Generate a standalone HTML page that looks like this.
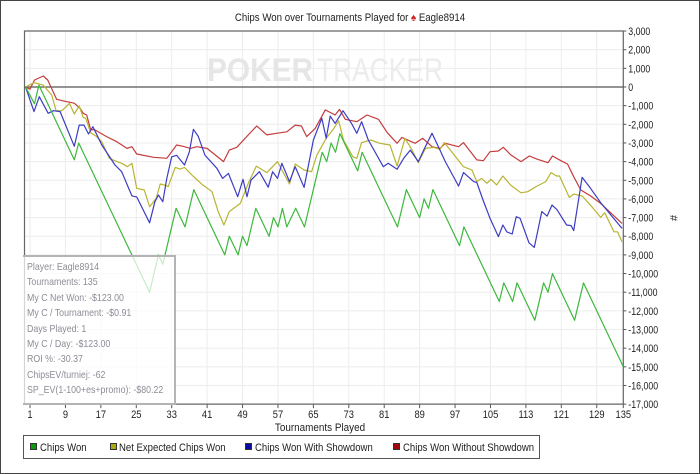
<!DOCTYPE html>
<html><head><meta charset="utf-8">
<style>
html,body{margin:0;padding:0;background:#fff;}
#wrap{position:relative;width:700px;height:474px;overflow:hidden;font-family:"Liberation Sans",sans-serif;}
svg text{font-family:"Liberation Sans",sans-serif;}
#info{position:absolute;left:23px;top:255px;width:151px;height:146px;border:2px solid #b4b4b4;border-left:none;background:rgba(255,255,255,0.72);font-size:10.5px;color:#8c8c96;}
#info div{position:absolute;left:4px;white-space:nowrap;transform:scaleX(0.84);transform-origin:0 0;}
</style></head>
<body>
<div id="wrap">
<svg id="chart" width="700" height="474">
  <rect x="0.5" y="0.5" width="699" height="473" fill="#fff" stroke="#444"/>
  <g transform="translate(350,21) scale(0.88,1)"><text x="0" y="0" font-size="11" text-anchor="middle" fill="#222">Chips Won over Tournaments Played for <tspan fill="#d02020">♠</tspan> Eagle8914</text></g>
  <g id="grid"></g>
  <g>
    <text x="207" y="81" font-size="32" font-weight="bold" fill="#e6e6e6" textLength="106" lengthAdjust="spacingAndGlyphs">POKER</text>
    <text x="317" y="81" font-size="32" fill="#ececec" textLength="126" lengthAdjust="spacingAndGlyphs">TRACKER</text>
  </g>
  <g id="axes"></g>
  <g id="series"></g>
  <g transform="translate(320,431) scale(0.9,1)"><text x="0" y="0" font-size="11" text-anchor="middle" fill="#222">Tournaments Played</text></g>
  <text x="670" y="218" font-size="11" text-anchor="middle" fill="#222" transform="rotate(90 670 218)">#</text>
  <g>
    <rect x="23.5" y="435.5" width="516" height="23" fill="#fff" stroke="#555"/>
    <g>
      <rect x="30.5" y="443.5" width="6" height="6" fill="#0a9a0a" stroke="#333"/>
      <g transform="translate(40,451) scale(0.87,1)"><text font-size="11" fill="#222">Chips Won</text></g>
    </g>
    <g>
      <rect x="110.5" y="443.5" width="6" height="6" fill="#a8a810" stroke="#333"/>
      <g transform="translate(119,451) scale(0.87,1)"><text font-size="11" fill="#222">Net Expected Chips Won</text></g>
    </g>
    <g>
      <rect x="245.5" y="443.5" width="6" height="6" fill="#0a0aa0" stroke="#333"/>
      <g transform="translate(255,451) scale(0.87,1)"><text font-size="11" fill="#222">Chips Won With Showdown</text></g>
    </g>
    <g>
      <rect x="393.5" y="443.5" width="6" height="6" fill="#a00a0a" stroke="#333"/>
      <g transform="translate(403,451) scale(0.87,1)"><text font-size="11" fill="#222">Chips Won Without Showdown</text></g>
    </g>
  </g>
</svg>
<div id="info">
  <div style="top:4px">Player: Eagle8914</div>
  <div style="top:19px">Tournaments: 135</div>
  <div style="top:35px">My C Net Won: -$123.00</div>
  <div style="top:50px">My C / Tournament: -$0.91</div>
  <div style="top:66px">Days Played: 1</div>
  <div style="top:81px">My C / Day: -$123.00</div>
  <div style="top:96px">ROI %: -30.37</div>
  <div style="top:112px">ChipsEV/turniej: -62</div>
  <div style="top:127px">SP_EV(1-100+es+promo): -$80.22</div>
</div>
</div>
<script>
const xTicks=[1,9,17,25,33,41,49,57,65,73,81,89,97,105,113,121,129,135];
const yTicks=[3000,2000,1000,0,-1000,-2000,-3000,-4000,-5000,-6000,-7000,-8000,-9000,-10000,-11000,-12000,-13000,-14000,-15000,-16000,-17000];
const chipsWonT=[0,2,3,11,12,28,30,31,34,36,38,45,46,48,49,50,52,55,56,57,58,59,61,63,67,68,69,70,71,75,76,84,86,89,90,91,92,98,99,107,108,110,111,115,117,118,119,124,126,135];
const chipsWonV=[0,-900,100,-3900,-3000,-11000,-9000,-9500,-6500,-7500,-5500,-9000,-8000,-9000,-8000,-8500,-6500,-8000,-7000,-7500,-6500,-7500,-6500,-7500,-3500,-4000,-3000,-3500,-2500,-4500,-3500,-7500,-5500,-7000,-6000,-6500,-5500,-8500,-7500,-11500,-10500,-11500,-10500,-12500,-10500,-11000,-10000,-12500,-10500,-15000];
const netExpT=[0,1.9,3.9,5.9,6.9,8.2,9.9,11,12.1,13,13.6,14.7,15.9,17.2,18.9,20.6,21.7,23,24,25.1,26.8,28,29.5,30.4,31.3,32.2,33.8,34.9,35.9,37.9,40,42.1,43.5,44.8,46,48.5,50.3,52.1,54.5,56.9,57.9,59.6,60.9,62.9,64.6,65.8,67.9,69.5,70.7,71.8,73.9,74.8,75.9,78,80,82.3,83.9,85.7,87.3,88.7,90.3,92.2,93.6,94.6,98.9,100.8,101.9,103,104.2,105.1,106.4,107.8,109.5,111.9,113.4,115.3,117.5,118.7,119.9,120.6,122.8,123.8,125.7,127.9,129.9,130.8,132.9,133.7,134.7];
const netExpV=[0,230,110,-430,-1270,-1270,-880,-1450,-1020,-1630,-1680,-2450,-2630,-2930,-3820,-4000,-4090,-4270,-4090,-5430,-5520,-6420,-5970,-5200,-5250,-5340,-4310,-4400,-4310,-4800,-5250,-5610,-6680,-7400,-6680,-6240,-5160,-4240,-4590,-4000,-4450,-5200,-4130,-4450,-4540,-3650,-2750,-2270,-1810,-2840,-3740,-3820,-2980,-2840,-3020,-3110,-4240,-2750,-3380,-4060,-3290,-3240,-3340,-2980,-4270,-4450,-5070,-4900,-5160,-4950,-5250,-4770,-5250,-5670,-5610,-5340,-5070,-4590,-4770,-4770,-5920,-5740,-5840,-6420,-6990,-6740,-7760,-7760,-8300];
const showT=[0,1.9,3.1,5.1,6.3,7.8,11,12.1,13.2,14.2,15.2,17.2,20.2,21.7,24,25.1,28,29.2,30,31,31.9,33,34.1,35.9,37,37.9,39,40.5,43.2,44.5,45.8,47.9,49.1,50,50.9,52.8,54.8,55.8,56.9,57.9,59.6,60.9,62.9,65,66.9,67.9,68.8,69.9,71.7,73.6,74.8,75.9,77.4,80.8,81.9,83.9,85.4,86.9,88.7,90,91.8,93.6,94.8,97.8,98.9,101.2,101.9,103.4,104.9,106.8,107.8,108.7,109.9,110.8,111.7,113.7,114.9,116.6,117.8,118.9,120,122.2,123.2,123.8,125.7,127.6,129.9,134.7];
const showV=[0,-1320,-520,-1410,-1270,-1320,-3180,-2040,-2040,-2520,-2130,-3110,-4180,-4540,-5840,-5890,-7280,-6150,-5790,-6150,-4900,-3740,-3660,-4180,-3470,-2270,-2650,-3650,-4360,-4900,-4630,-5880,-4950,-5880,-4990,-4540,-5370,-4540,-4900,-4090,-5070,-4270,-5380,-2840,-1680,-2750,-1560,-1950,-1270,-1950,-2480,-1860,-2840,-4270,-4090,-4410,-3820,-3380,-4000,-3340,-2480,-3380,-4000,-5310,-4590,-5070,-5120,-6110,-7040,-8020,-7400,-7770,-7880,-6950,-7040,-8350,-8600,-6680,-6920,-6330,-6570,-7400,-7430,-7700,-4840,-5430,-6200,-7580];
const noShowT=[0,1,2,4,5,7,9.3,11,12.3,13,13.8,14.7,15.5,18.3,20.6,22.9,24,25.1,28.9,31.9,34.1,35.6,37.2,38.7,41,44.7,46,47.7,50.3,52.2,54.5,56.7,59,60.9,62.3,63.5,65.4,67.7,69.9,70.9,72.2,74.8,77.1,79.7,81.7,83.9,85,88,89.7,91.8,93.6,94.8,97.8,98.9,101.9,103.4,104.9,106.8,107.9,109.6,111.9,113.8,115.7,118,119,120.9,122.4,123.8,125.4,127.6,129.9,134.7];
const noShowV=[0,-120,375,590,375,-660,-790,-870,-1140,-1410,-1500,-2300,-2280,-2660,-2930,-3290,-3200,-3590,-3770,-3820,-3110,-3180,-3290,-3200,-3290,-4000,-3380,-3230,-2570,-2090,-2570,-2480,-2400,-2040,-2090,-2660,-2220,-1230,-1500,-1200,-1730,-1860,-1500,-1730,-2450,-3020,-2700,-3020,-2750,-3200,-3290,-3020,-3200,-2980,-3910,-3950,-3470,-3430,-3230,-3640,-4000,-3700,-3880,-4060,-3700,-3950,-4130,-4810,-5520,-5840,-6240,-7310];

const NS='http://www.w3.org/2000/svg';
const X0=25.6, XS=(623.3-25.6)/135;
const xs=t=>X0+t*XS;
const ys=v=>87-v*0.018655;
function mk(tag,attrs,parent){const e=document.createElementNS(NS,tag);for(const k in attrs)e.setAttribute(k,attrs[k]);parent.appendChild(e);return e;}
const grid=document.getElementById('grid'), axes=document.getElementById('axes'), ser=document.getElementById('series');
const L=24.5,R=623.3,T=ys(3000),B=ys(-17000);
xTicks.forEach(t=>{
  const g=mk('line',{x1:xs(t),x2:xs(t),y1:T,y2:B,stroke:'#ececec','stroke-width':1},grid);
  
  
  const tk=mk('line',{x1:xs(t),x2:xs(t),y1:B,y2:B+4,stroke:'#555'},axes);
  
  
  const gg=mk('g',{transform:`translate(${xs(t)},${B+14}) scale(0.85,1)`},axes);
  
  
  const lb=mk('text',{x:0,y:0,'font-size':11,'text-anchor':'middle',fill:'#222'},gg);
  lb.textContent=t;
});
yTicks.forEach(v=>{
  const g=mk('line',{x1:L,x2:R,y1:ys(v),y2:ys(v),stroke:'#ececec','stroke-width':1},grid);
  
  
  const tk=mk('line',{x1:R,x2:R+3,y1:ys(v),y2:ys(v),stroke:'#555'},axes);
  
  
  const gg=mk('g',{transform:`translate(${R+5},${ys(v)+4}) scale(0.8,1)`},axes);
  
  
  const lb=mk('text',{x:0,y:0,'font-size':11,fill:'#222'},gg);
  lb.textContent=v.toLocaleString('en-US');
});
const frame=mk('path',{d:`M${L},${B} L${L},${T} L${R},${T} L${R},${B} L${L},${B}`,fill:'none',stroke:'#666','stroke-width':1.2},axes);


const zero=mk('line',{x1:L,x2:R,y1:ys(0),y2:ys(0),stroke:'#555','stroke-width':1.3},axes);


function line(T_,V_,color,name){
  const p=mk('polyline',{points:T_.map((t,i)=>xs(t).toFixed(1)+','+ys(V_[i]).toFixed(1)).join(' '),fill:'none',stroke:color,'stroke-width':1.2,'stroke-linejoin':'round'},ser);
  
  
}
line(noShowT,noShowV,'#c43c3c','line-chips-won-without-showdown');
line(netExpT,netExpV,'#b8b434','line-net-expected-chips-won');
line(showT,showV,'#3c3cc4','line-chips-won-with-showdown');
line(chipsWonT,chipsWonV,'#3cb83c','line-chips-won');
</script>
</body></html>
